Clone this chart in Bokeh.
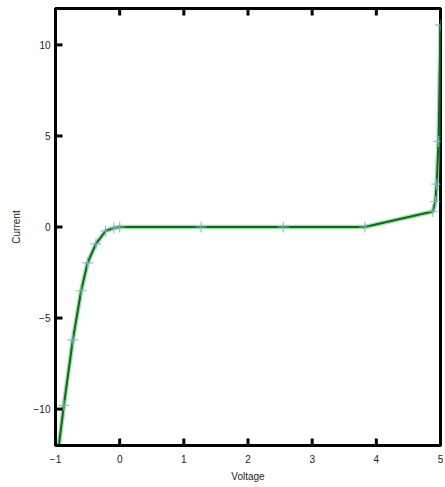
from bokeh.plotting import figure
from bokeh.models import LinearAxis, FixedTicker, Range1d, CustomJSTickFormatter, ColumnDataSource
from bokeh.embed import file_html
from bokeh.resources import INLINE

voltage = [-1.0, -0.87, -0.73, -0.6, -0.5, -0.37, -0.22, -0.09, 0.0,
           1.27, 2.55, 3.82, 4.88, 4.92, 4.94, 4.97, 5.0]
current = [-13.5, -9.8, -6.2, -3.5, -1.97, -0.93, -0.22, -0.05, 0.0,
           0.0, 0.0, 0.0, 0.85, 1.4, 2.35, 4.7, 11.1]
x_ticks = [-1, 0, 1, 2, 3, 4, 5]
y_ticks = [-10, -5, 0, 5, 10]
x_min, x_max = -1, 5
y_min, y_max = -12, 12

W, H = 445, 487
BL, BR, BT, BB = 55, 5, 8, 42
frame_w = W - BL - BR
frame_h = H - BT - BB
tick_px = 7
dx = tick_px * (x_max - x_min) / frame_w
dy = tick_px * (y_max - y_min) / frame_h

p = figure(width=W, height=H, output_backend="svg", toolbar_location=None,
           x_range=Range1d(x_min, x_max), y_range=Range1d(y_min, y_max),
           x_axis_label="Voltage", y_axis_label="Current",
           min_border_left=BL, min_border_right=BR, min_border_top=BT, min_border_bottom=BB)
p.xgrid.visible = False
p.ygrid.visible = False
p.outline_line_color = "black"
p.outline_line_width = 3
p.background_fill_color = "white"
p.border_fill_color = "white"

p.line(voltage, current, line_color="#55d455", line_width=4.5, line_alpha=0.6)
p.line(voltage, current, line_color="#1b5e30", line_width=2)
p.scatter(voltage, current, marker="cross", size=11, line_color="#86b4c8", line_width=1.2, line_alpha=0.85)

# inward tick marks, drawn from the tick lists
n = len(x_ticks)
m = len(y_ticks)
ticks_src = ColumnDataSource(dict(
    x0=x_ticks + x_ticks + [x_min] * m,
    y0=[y_min] * n + [y_max] * n + y_ticks,
    x1=x_ticks + x_ticks + [x_min + dx] * m,
    y1=[y_min + dy] * n + [y_max - dy] * n + y_ticks,
))
p.segment(x0="x0", y0="y0", x1="x1", y1="y1", source=ticks_src,
          line_color="#000000", line_width=3, level="overlay")

for ax in (p.xaxis[0], p.yaxis[0]):
    ax.axis_line_width = 3
    ax.axis_line_color = "black"
    ax.major_tick_in = 0
    ax.major_tick_out = 0
    ax.minor_tick_line_color = None
    ax.major_label_text_font = "Liberation Sans"
    ax.major_label_text_font_size = "10px"
    ax.major_label_text_color = "#222222"
    ax.axis_label_text_font = "Liberation Sans"
    ax.axis_label_text_font_size = "10px"
    ax.axis_label_text_font_style = "normal"
    ax.axis_label_text_color = "#222222"
p.xaxis[0].ticker = FixedTicker(ticks=x_ticks)
p.yaxis[0].ticker = FixedTicker(ticks=y_ticks)
p.xaxis[0].major_label_standoff = 9
p.yaxis[0].major_label_standoff = 5
p.xaxis[0].axis_label_standoff = 5
p.yaxis[0].axis_label_standoff = 9

top = LinearAxis(ticker=FixedTicker(ticks=x_ticks),
                 formatter=CustomJSTickFormatter(code="return ''"),
                 major_tick_in=0, major_tick_out=0,
                 minor_tick_line_color=None, axis_line_width=3, major_label_standoff=0)
p.add_layout(top, "above")

open("out.html", "w").write(file_html(p, INLINE))
